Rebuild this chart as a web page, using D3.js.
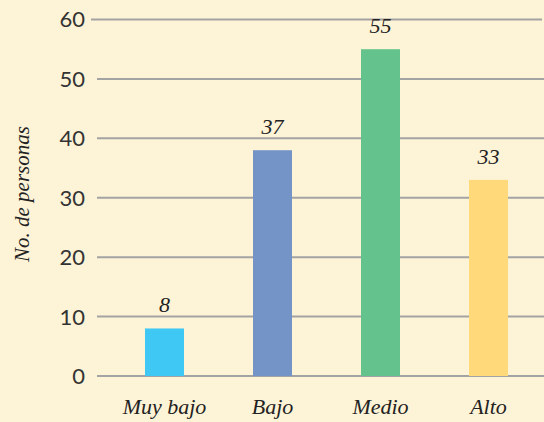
<!DOCTYPE html>
<html><head><meta charset="utf-8">
<script src="https://cdn.jsdelivr.net/npm/d3@7"></script>
<style>html,body{margin:0;padding:0;background:#FDF3D6;}
.serif{font-family:"Liberation Serif","Times New Roman",Times,serif;font-style:italic;}
</style>
</head><body>
<script>
const categories = ["Muy bajo", "Bajo", "Medio", "Alto"];
const values = [8, 38, 55, 33];
const valueLabels = ["8", "37", "55", "33"];
const colors = ["#40C8F4", "#7494C8", "#64C38C", "#FFD97A"];
const yTicks = [0, 10, 20, 30, 40, 50, 60];
const yTitle = "No. de personas";

const W = 544, H = 422;
const svg = d3.select("body").append("svg").attr("width", W).attr("height", H)
  .style("background", "#FDF3D6");

const y = d3.scaleLinear().domain([0, 60]).range([376, 19.5]);
const x = d3.scalePoint().domain(categories).range([164.5, 488.5]);
const barW = 39;

// gridlines
svg.append("g").selectAll("line").data(yTicks).join("line")
  .attr("x1", d => d === 60 ? 91 : 97).attr("x2", d => d === 60 ? 542 : 544)
  .attr("y1", d => y(d)).attr("y2", d => y(d))
  .attr("stroke", "#A3A3A3").attr("stroke-width", 2);

// y tick labels
svg.append("g").selectAll("text").data(yTicks).join("text")
  .attr("x", 85).attr("y", d => y(d)).attr("dy", "0.36em")
  .attr("text-anchor", "end")
  .style("font-family", "Lato, 'Open Sans', sans-serif").style("font-size", "22px")
  .attr("fill", "#333").text(d => d);

// bars
svg.append("g").selectAll("rect").data(categories).join("rect")
  .attr("x", d => x(d) - barW / 2).attr("width", barW)
  .attr("y", (d, i) => y(values[i])).attr("height", (d, i) => y(0) - y(values[i]))
  .attr("fill", (d, i) => colors[i]);

// value labels
svg.append("g").selectAll("text").data(categories).join("text")
  .attr("class", "serif")
  .attr("x", d => x(d)).attr("y", (d, i) => y(values[i]) - 16)
  .attr("text-anchor", "middle")
  .style("font-size", "22px").attr("fill", "#222")
  .text((d, i) => valueLabels[i]);

// x labels
svg.append("g").selectAll("text").data(categories).join("text")
  .attr("class", "serif")
  .attr("x", d => x(d)).attr("y", 414)
  .attr("text-anchor", "middle")
  .style("font-size", "22px").attr("fill", "#222")
  .text(d => d);

// y title
svg.append("text")
  .attr("class", "serif")
  .attr("transform", "translate(29,194) rotate(-90)")
  .attr("text-anchor", "middle")
  .style("font-size", "21px").attr("fill", "#222")
  .text(yTitle);
</script>
</body></html>
